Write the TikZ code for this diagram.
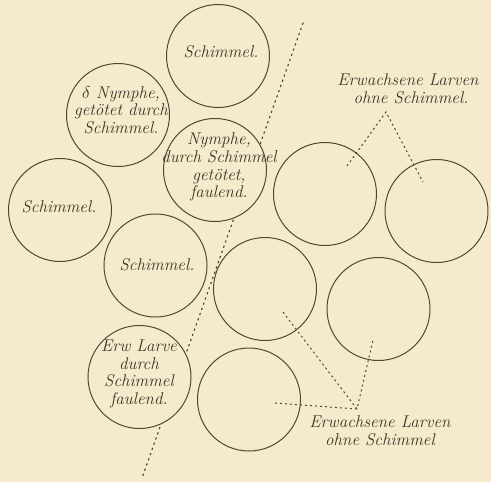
\documentclass[tikz,border=0pt]{standalone}
\usepackage{xcolor}
\definecolor{bg}{RGB}{245,234,204}
\definecolor{ink}{RGB}{80,70,54}
\definecolor{txt}{RGB}{60,52,40}
\newcommand\lblfont{\fontsize{17}{17.7}\selectfont\itshape}
\begin{document}
\begin{tikzpicture}[x=1pt,y=-1pt,
  cell/.style={circle,draw=ink,line width=1pt,fill=bg,minimum size=103pt,inner sep=0pt},
  word/.style={text=txt,align=center,font=\lblfont,inner sep=0pt},
  sepline/.style={draw=ink,line width=1.2pt,dash pattern=on 1.5pt off 4pt,line cap=round},
  lead/.style={draw=ink,line width=1pt,dash pattern=on 2pt off 3pt}]
\fill[bg] (0,0) rectangle (491,482);
\useasboundingbox (0,0) rectangle (491,482);
% separating dotted line
\coordinate (s1) at (303,23);
\coordinate (s2) at (142,478);
\draw[sepline] (s1) -- (s2);
% circles
\node[cell] (c1) at (218,56) {};
\node[cell] (c2) at (118,115) {};
\node[cell] (c3) at (215,170) {};
\node[cell] (c4) at (60,210) {};
\node[cell] (c5) at (155.5,265.5) {};
\node[cell] (c6) at (139.5,377) {};
\node[cell] (c7) at (325,194) {};
\node[cell] (c8) at (436.5,211) {};
\node[cell] (c9) at (265,289) {};
\node[cell] (c10) at (378.5,309) {};
\node[cell] (c11) at (249,399.5) {};
% texts in circles
\node[word] (t1) at (221,52) {Schimmel.};
\node[word] (t2) at (121,110) {$\delta$ Nymphe,\\getötet durch\\Schimmel.};
\node[word] (t3) at (219,167) {Nymphe,\\durch Schimmel\\getötet,\\faulend.};
\node[word] (t4) at (59,207) {Schimmel.};
\node[word] (t5) at (157,265) {Schimmel.};
\node[word] (t6) at (139,374) {Erw Larve\\durch\\Schimmel\\faulend.};
% labels
\node[word] (lT) at (408,89) {Erwachsene Larven\\\hspace*{6pt}ohne Schimmel.};
\node[word] (lB) at (380,431) {Erwachsene Larven\\ohne Schimmel};
% leaders top
\coordinate (aT) at (386,112);
\coordinate (eT1) at (347,166);
\coordinate (eT2) at (423,182);
\draw[lead] (eT1) -- (aT) -- (eT2);
% leaders bottom
\coordinate (aB) at (357,409);
\coordinate (eB1) at (283,312);
\coordinate (eB2) at (373,340);
\coordinate (eB3) at (275,403);
\draw[lead] (eB1) -- (aB) -- (eB2);
\draw[lead] (eB3) -- (aB);
\end{tikzpicture}
\end{document}
